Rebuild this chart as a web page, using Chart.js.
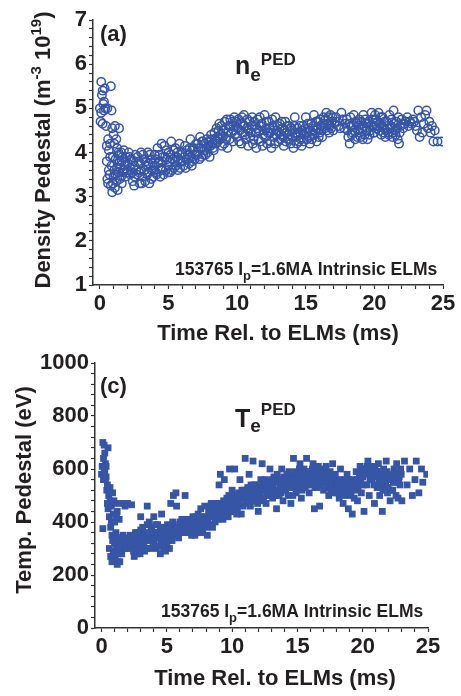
<!DOCTYPE html>
<html>
<head>
<meta charset="utf-8">
<script src="https://cdn.jsdelivr.net/npm/chart.js@4"></script>
<style>
  body { margin: 0; background: #fff; }
  canvas { position: absolute; left: 0; }
</style>
</head>
<body>
<canvas id="top" width="461" height="350" style="top:0"></canvas>
<canvas id="bot" width="461" height="356" style="top:340px"></canvas>
<script>
// panel (a): density pedestal, 1e19 m^-3
const densTime = [0.0, 0.05, 0.1, 0.1, 0.15, 0.2, 0.2, 0.25, 0.3, 0.3, 0.35, 0.4, 0.45, 0.5, 0.5, 0.55, 0.6, 0.6, 0.65, 0.7, 0.75, 0.8, 0.8, 0.85, 0.85, 0.9, 0.9, 0.95, 1.0, 1.0, 1.05, 1.1, 1.1, 1.15, 1.2, 1.2, 1.25, 1.3, 1.3, 1.35, 1.4, 1.4, 1.45, 1.5, 1.55, 1.6, 1.6, 1.7, 1.75, 1.8, 1.85, 1.9, 2.0, 2.05, 2.1, 2.2, 2.3, 2.4, 2.5, 2.5, 2.6, 2.7, 2.8, 2.9, 3.0, 3.0, 3.1, 3.2, 3.3, 3.4, 3.5, 3.5, 3.6, 3.7, 3.8, 3.9, 4.0, 4.0, 4.1, 4.2, 4.3, 4.4, 4.5, 4.5, 4.6, 4.7, 4.8, 4.9, 5.0, 5.0, 5.1, 5.2, 5.3, 5.4, 5.5, 5.6, 5.7, 5.8, 5.9, 6.0, 6.1, 6.2, 6.3, 6.4, 6.5, 6.6, 6.7, 6.8, 6.9, 7.0, 7.1, 7.2, 7.3, 7.4, 7.5, 7.6, 7.7, 7.8, 7.9, 8.0, 8.1, 8.2, 8.3, 8.4, 8.5, 8.6, 8.7, 8.8, 8.9, 9.0, 9.1, 9.2, 9.3, 9.4, 9.5, 9.6, 9.7, 9.8, 9.9, 10.0, 10.1, 10.2, 10.3, 10.4, 10.5, 10.6, 10.7, 10.8, 10.9, 11.0, 11.1, 11.2, 11.3, 11.4, 11.5, 11.6, 11.7, 11.8, 11.9, 12.0, 12.1, 12.2, 12.3, 12.4, 12.5, 12.6, 12.7, 12.8, 12.9, 13.0, 13.1, 13.2, 13.3, 13.4, 13.5, 13.6, 13.7, 13.8, 13.9, 14.0, 14.1, 14.2, 14.3, 14.4, 14.5, 14.6, 14.7, 14.8, 14.9, 15.0, 15.1, 15.2, 15.3, 15.4, 15.5, 15.6, 15.7, 15.8, 15.9, 16.0, 16.1, 16.2, 16.3, 16.4, 16.5, 16.6, 16.7, 16.8, 16.9, 17.0, 17.2, 17.4, 17.6, 17.8, 18.0, 18.1, 18.2, 18.3, 18.4, 18.5, 18.6, 18.7, 18.8, 18.9, 19.0, 19.1, 19.2, 19.3, 19.4, 19.5, 19.6, 19.7, 19.8, 19.9, 20.0, 20.1, 20.2, 20.3, 20.4, 20.5, 20.6, 20.7, 20.8, 20.9, 21.0, 21.1, 21.2, 21.3, 21.4, 21.5, 21.6, 21.7, 21.8, 21.9, 22.0, 22.2, 22.4, 22.6, 22.8, 23.0, 23.1, 23.2, 23.3, 23.4, 23.5, 23.6, 23.7, 23.8, 23.9, 24.0, 24.1, 24.2, 24.3, 24.4, 24.6, 24.9,
  0.55, 0.65, 0.75, 0.95, 1.05, 1.15, 1.25, 1.35, 1.45, 1.55, 1.65, 1.75, 1.85, 1.95, 2.15, 2.25, 2.35, 2.45, 2.55, 2.65, 2.75, 2.85, 2.95, 3.05, 3.15, 3.25, 3.35, 3.45, 3.55, 3.65, 3.75, 3.85, 3.95, 4.05, 4.15, 4.25, 4.35, 4.45, 4.55, 4.65, 4.75, 4.85, 4.95, 5.05, 5.15, 5.25, 5.35, 5.45, 5.55, 5.65, 5.75, 5.85, 5.95, 6.05, 6.15, 6.25, 6.35, 6.45, 6.55, 6.65, 6.75, 6.85, 6.95, 7.05, 7.15, 7.25, 7.35, 7.45, 7.55, 7.65, 7.75, 7.85, 7.95, 8.05, 8.15, 8.25, 8.35, 8.45, 8.55, 8.65, 8.75, 8.85, 8.95, 9.05, 9.15, 9.25, 9.35, 9.45, 9.55, 9.65, 9.75, 9.85, 9.95, 10.05, 10.15, 10.25, 10.35, 10.45, 10.55, 10.65, 10.75, 10.85, 10.95, 11.05, 11.15, 11.25, 11.35, 11.45, 11.55, 11.65, 11.75, 11.85, 11.95, 12.05, 12.15, 12.25, 12.35, 12.45, 12.55, 12.65, 12.75, 12.85, 12.95, 13.05, 13.15, 13.25, 13.35, 13.45, 13.55, 13.65, 13.75, 13.85, 13.95, 14.05, 14.15, 14.25, 14.35, 14.45, 14.55, 14.65, 14.75, 14.85, 14.95, 15.05, 15.15, 15.25, 15.35, 15.45, 15.55, 15.65, 15.75, 15.85, 15.95, 16.05, 16.15, 16.25, 16.35, 16.45, 16.55, 16.65, 16.75, 16.85, 16.95, 17.1, 17.3, 17.5, 17.7, 17.9, 18.05, 18.15, 18.25, 18.35, 18.45, 18.55, 18.65, 18.75, 18.85, 18.95, 19.05, 19.15, 19.25, 19.35, 19.45, 19.55, 19.65, 19.75, 19.85, 19.95, 20.05, 20.15, 20.25, 20.35, 20.45, 20.55, 20.65, 20.75, 20.85, 20.95, 21.05, 21.15, 21.25, 21.35, 21.45, 21.55, 21.65, 21.75, 21.85, 21.95, 22.1, 22.3, 22.5, 22.7, 22.9];
const densValue = [5.0, 4.7, 5.6, 4.9, 5.3, 5.4, 4.65, 5.1, 4.95, 5.15, 5.45, 5.0, 4.6, 4.15, 3.8, 5.0, 4.3, 3.3, 4.05, 3.5, 4.2, 5.5, 3.25, 4.95, 3.7, 4.55, 3.1, 3.9, 4.4, 3.45, 3.6, 4.6, 3.2, 3.85, 4.3, 3.35, 4.1, 3.75, 3.15, 3.55, 4.55, 3.95, 3.4, 3.65, 4.0, 3.3, 3.8, 3.55, 4.05, 3.7, 3.45, 3.9, 3.6, 3.75, 4.0, 3.5, 3.85, 3.35, 3.25, 3.7, 3.95, 3.5, 3.8, 3.3, 3.6, 4.0, 3.45, 3.85, 3.35, 3.7, 4.0, 3.55, 3.3, 3.85, 3.6, 3.45, 3.95, 3.7, 3.55, 4.1, 3.8, 3.45, 4.2, 3.65, 3.9, 4.15, 3.6, 3.85, 3.7, 4.0, 3.55, 4.25, 3.85, 3.65, 4.1, 3.9, 3.6, 4.2, 3.8, 4.0, 3.7, 4.15, 3.85, 3.95, 3.75, 4.3, 3.7, 4.05, 3.85, 4.2, 3.95, 4.1, 4.35, 3.9, 4.25, 4.05, 3.95, 4.3, 4.15, 3.9, 4.4, 4.2, 4.05, 4.3, 4.55, 4.25, 4.65, 4.4, 4.15, 4.5, 4.7, 4.3, 4.1, 4.6, 4.75, 4.45, 4.25, 4.8, 4.6, 4.35, 4.75, 4.5, 4.2, 4.65, 4.85, 4.4, 4.55, 4.15, 4.7, 4.45, 4.8, 4.3, 4.6, 4.1, 4.75, 4.5, 4.25, 4.65, 4.4, 4.85, 4.55, 4.2, 4.7, 4.45, 4.1, 4.6, 4.35, 4.8, 4.5, 4.25, 4.65, 4.4, 4.55, 4.15, 4.7, 4.45, 4.3, 4.6, 4.2, 4.5, 4.1, 4.8, 4.35, 4.55, 4.25, 4.45, 4.15, 4.6, 4.4, 4.8, 4.3, 4.55, 4.2, 4.65, 4.4, 4.85, 4.5, 4.25, 4.7, 4.45, 4.6, 4.35, 4.8, 4.55, 4.9, 4.65, 4.45, 4.85, 4.7, 4.5, 4.8, 4.6, 4.9, 4.55, 4.75, 4.35, 4.2, 4.6, 4.45, 4.85, 4.3, 4.65, 4.5, 4.75, 4.35, 4.55, 4.85, 4.4, 4.65, 4.3, 4.7, 4.5, 4.9, 4.6, 4.45, 4.75, 4.55, 4.9, 4.65, 4.4, 4.8, 4.55, 4.35, 4.7, 4.45, 4.85, 4.6, 4.35, 4.95, 4.5, 4.7, 4.3, 4.2, 4.6, 4.75, 4.65, 4.8, 4.7, 4.75, 4.6, 4.5, 4.95, 4.35, 4.8, 4.45, 4.65, 4.85, 4.95, 4.55, 4.7, 4.45, 4.6, 4.25, 4.5, 4.25, 4.25,
  3.4, 3.6, 3.9, 3.3, 4.2, 3.5, 3.65, 4.0, 3.8, 3.45, 3.9, 3.6, 3.8, 3.55, 3.9, 3.65, 3.55, 3.8, 3.45, 3.6, 3.9, 3.55, 3.75, 3.3, 3.95, 3.6, 3.8, 3.5, 3.75, 3.95, 3.4, 3.75, 3.6, 3.85, 3.5, 3.75, 3.95, 3.6, 3.8, 3.5, 3.9, 4.05, 3.55, 3.8, 3.95, 3.6, 4.05, 3.8, 3.7, 4.0, 3.85, 3.65, 3.95, 3.8, 3.9, 3.65, 4.05, 3.85, 4.1, 3.9, 3.8, 4.1, 3.95, 4.0, 4.2, 3.85, 4.1, 4.25, 3.95, 4.2, 4.1, 4.0, 4.25, 4.15, 4.3, 4.1, 4.45, 4.2, 4.35, 4.5, 4.3, 4.6, 4.35, 4.2, 4.55, 4.75, 4.45, 4.3, 4.6, 4.7, 4.5, 4.4, 4.7, 4.55, 4.25, 4.65, 4.8, 4.45, 4.6, 4.3, 4.75, 4.5, 4.35, 4.6, 4.2, 4.7, 4.45, 4.55, 4.3, 4.8, 4.6, 4.15, 4.5, 4.35, 4.7, 4.45, 4.55, 4.25, 4.75, 4.5, 4.2, 4.4, 4.6, 4.45, 4.3, 4.7, 4.35, 4.5, 4.25, 4.6, 4.4, 4.3, 4.55, 4.35, 4.6, 4.45, 4.2, 4.4, 4.6, 4.3, 4.5, 4.25, 4.55, 4.45, 4.65, 4.35, 4.5, 4.3, 4.6, 4.4, 4.7, 4.55, 4.35, 4.75, 4.5, 4.65, 4.6, 4.75, 4.5, 4.8, 4.6, 4.55, 4.8, 4.65, 4.7, 4.55, 4.75, 4.65, 4.5, 4.65, 4.8, 4.4, 4.6, 4.5, 4.7, 4.35, 4.6, 4.45, 4.7, 4.3, 4.6, 4.75, 4.5, 4.65, 4.4, 4.6, 4.75, 4.45, 4.85, 4.6, 4.7, 4.5, 4.8, 4.6, 4.45, 4.7, 4.5, 4.6, 4.4, 4.55, 4.75, 4.45, 4.65, 4.4, 4.55, 4.8, 4.45, 4.65, 4.55, 4.7, 4.6, 4.65, 4.7];

// panel (c): temperature pedestal, eV
const tempTime = [0.0, 0.05, 0.1, 0.1, 0.15, 0.2, 0.2, 0.25, 0.3, 0.3, 0.35, 0.4, 0.45, 0.5, 0.5, 0.55, 0.6, 0.6, 0.65, 0.7, 0.7, 0.75, 0.8, 0.8, 0.85, 0.9, 0.9, 0.95, 1.0, 1.0, 1.05, 1.1, 1.1, 1.15, 1.2, 1.2, 1.25, 1.3, 1.35, 1.4, 1.4, 1.5, 1.6, 1.6, 1.7, 1.8, 1.9, 2.0, 2.0, 2.1, 2.2, 2.3, 2.4, 2.5, 2.5, 2.6, 2.7, 2.8, 2.9, 3.0, 3.0, 3.1, 3.2, 3.3, 3.4, 3.5, 3.5, 3.6, 3.7, 3.8, 3.9, 4.0, 4.0, 4.1, 4.2, 4.3, 4.4, 4.5, 4.5, 4.6, 4.7, 4.8, 4.9, 5.0, 5.0, 5.1, 5.2, 5.3, 5.3, 5.4, 5.5, 5.5, 5.6, 5.7, 5.8, 5.9, 6.0, 6.1, 6.2, 6.3, 6.4, 6.5, 6.6, 6.7, 6.8, 6.9, 7.0, 7.1, 7.2, 7.3, 7.4, 7.5, 7.6, 7.7, 7.8, 7.9, 8.0, 8.1, 8.2, 8.3, 8.4, 8.5, 8.6, 8.7, 8.8, 8.9, 9.0, 9.0, 9.1, 9.2, 9.3, 9.4, 9.5, 9.6, 9.7, 9.8, 9.9, 10.0, 10.1, 10.2, 10.3, 10.4, 10.5, 10.6, 10.7, 10.8, 10.9, 11.0, 11.1, 11.2, 11.3, 11.4, 11.5, 11.6, 11.7, 11.8, 11.9, 12.0, 12.1, 12.2, 12.3, 12.4, 12.5, 12.6, 12.7, 12.8, 12.9, 13.0, 13.1, 13.2, 13.3, 13.4, 13.5, 13.6, 13.7, 13.8, 13.9, 14.0, 14.1, 14.2, 14.3, 14.4, 14.5, 14.6, 14.7, 14.8, 14.9, 15.0, 15.1, 15.2, 15.3, 15.4, 15.5, 15.6, 15.7, 15.8, 15.9, 16.0, 16.1, 16.2, 16.3, 16.4, 16.5, 16.6, 16.7, 16.8, 16.9, 17.0, 17.1, 17.2, 17.3, 17.4, 17.5, 17.6, 17.7, 17.8, 17.9, 18.0, 18.1, 18.2, 18.3, 18.4, 18.5, 18.6, 18.7, 18.8, 18.9, 19.0, 19.1, 19.2, 19.3, 19.4, 19.5, 19.6, 19.7, 19.8, 19.9, 20.0, 20.1, 20.2, 20.3, 20.4, 20.5, 20.6, 20.7, 20.8, 20.9, 21.0, 21.1, 21.2, 21.3, 21.4, 21.5, 21.6, 21.7, 21.8, 21.9, 22.0, 22.1, 22.2, 22.3, 22.4, 22.5, 22.6, 22.7, 22.8, 22.9, 23.0, 23.2, 23.4, 23.6, 23.8, 24.0, 24.1, 24.3, 24.5, 24.6, 24.9,
  0.15, 0.25, 0.35, 0.45, 0.55, 0.65, 0.75, 0.85, 0.95, 1.05, 1.15, 1.25, 1.35, 1.45, 1.55, 1.65, 1.75, 1.85, 2.15, 2.25, 2.45, 2.55, 2.65, 2.75, 2.85, 2.95, 3.05, 3.15, 3.25, 3.35, 3.45, 3.55, 3.65, 3.75, 3.85, 3.95, 4.05, 4.15, 4.25, 4.35, 4.45, 4.55, 4.65, 4.75, 4.85, 4.95, 5.05, 5.15, 5.25, 5.35, 5.45, 5.65, 5.75, 5.85, 5.95, 6.15, 6.25, 6.35, 6.55, 6.65, 6.75, 6.85, 7.05, 7.15, 7.25, 7.35, 7.45, 7.55, 7.65, 7.75, 7.85, 7.95, 8.05, 8.15, 8.25, 8.35, 8.45, 8.55, 8.65, 8.75, 8.85, 8.95, 9.05, 9.15, 9.25, 9.35, 9.45, 9.55, 9.65, 9.75, 9.85, 9.95, 10.05, 10.15, 10.25, 10.35, 10.45, 10.55, 10.65, 10.75, 10.85, 10.95, 11.05, 11.15, 11.25, 11.35, 11.45, 11.55, 11.65, 11.75, 11.85, 11.95, 12.05, 12.15, 12.25, 12.35, 12.45, 12.55, 12.65, 12.75, 12.85, 12.95, 13.05, 13.15, 13.25, 13.35, 13.45, 13.55, 13.65, 13.75, 13.85, 13.95, 14.05, 14.15, 14.25, 14.35, 14.45, 14.55, 14.65, 14.75, 14.85, 14.95, 15.05, 15.15, 15.25, 15.35, 15.45, 15.55, 15.65, 15.75, 15.85, 15.95, 16.05, 16.15, 16.25, 16.35, 16.45, 16.55, 16.65, 16.75, 16.85, 16.95, 17.05, 17.15, 17.25, 17.35, 17.45, 17.55, 17.65, 17.75, 17.85, 17.95, 18.05, 18.15, 18.25, 18.35, 18.45, 18.55, 18.65, 18.75, 18.85, 18.95, 19.05, 19.15, 19.25, 19.35, 19.45, 19.55, 19.65, 19.75, 19.85, 19.95, 20.05, 20.15, 20.25, 20.35, 20.45, 20.55, 20.65, 20.75, 20.85, 20.95, 21.05, 21.15, 21.25, 21.35, 21.45, 21.55, 21.65, 21.75, 21.85, 21.95, 22.05, 22.15, 22.25, 22.35, 22.45, 22.55, 22.65, 22.75, 22.85, 22.95];
const tempValue = [580, 610, 700, 375, 640, 690, 600, 660, 560, 620, 570, 520, 470, 680, 450, 500, 420, 300, 530, 380, 270, 460, 350, 250, 510, 430, 290, 480, 400, 320, 260, 470, 360, 300, 440, 240, 340, 280, 410, 250, 320, 300, 470, 330, 310, 460, 340, 470, 320, 300, 350, 465, 330, 270, 310, 360, 280, 340, 300, 370, 420, 310, 350, 290, 330, 390, 460, 340, 300, 380, 350, 420, 320, 360, 300, 390, 340, 280, 370, 430, 320, 350, 290, 380, 310, 340, 300, 470, 360, 330, 500, 390, 350, 510, 380, 340, 400, 370, 360, 390, 500, 380, 410, 360, 390, 350, 420, 380, 400, 360, 430, 390, 450, 370, 410, 460, 400, 350, 440, 420, 470, 380, 450, 400, 460, 420, 540, 440, 580, 470, 410, 560, 450, 490, 420, 600, 470, 520, 440, 600, 480, 450, 510, 560, 430, 490, 520, 640, 470, 530, 580, 460, 500, 630, 540, 480, 520, 440, 510, 560, 620, 490, 530, 470, 550, 510, 600, 540, 490, 570, 520, 450, 560, 500, 540, 600, 480, 550, 520, 580, 500, 560, 470, 530, 640, 550, 510, 580, 540, 620, 490, 570, 600, 530, 640, 560, 510, 590, 540, 620, 450, 570, 530, 610, 460, 560, 600, 520, 580, 610, 540, 500, 590, 560, 620, 530, 580, 510, 550, 490, 600, 540, 470, 560, 520, 580, 450, 540, 500, 430, 560, 520, 590, 480, 550, 610, 510, 570, 440, 600, 540, 630, 500, 580, 560, 610, 470, 590, 530, 620, 500, 570, 440, 600, 540, 630, 510, 580, 480, 560, 520, 600, 550, 620, 490, 570, 600, 480, 630, 540, 600, 500, 560, 630, 510, 600, 550, 580,
  560, 590, 610, 540, 460, 480, 400, 330, 280, 350, 420, 250, 300, 340, 280, 350, 320, 300, 330, 310, 290, 340, 320, 360, 330, 280, 340, 380, 320, 360, 300, 350, 400, 330, 370, 310, 360, 390, 340, 310, 360, 330, 380, 300, 360, 340, 390, 330, 380, 350, 400, 370, 460, 360, 380, 410, 380, 400, 360, 380, 400, 370, 390, 350, 420, 380, 370, 400, 420, 360, 390, 420, 380, 410, 390, 460, 430, 420, 470, 440, 410, 470, 420, 460, 440, 480, 430, 470, 450, 500, 440, 480, 460, 500, 470, 430, 490, 470, 500, 520, 460, 500, 480, 520, 490, 510, 540, 480, 520, 500, 540, 470, 530, 500, 480, 540, 520, 560, 500, 530, 550, 510, 560, 530, 500, 550, 580, 520, 560, 510, 540, 570, 520, 550, 530, 590, 540, 570, 500, 560, 590, 530, 560, 600, 550, 520, 580, 560, 590, 540, 580, 550, 570, 600, 560, 530, 590, 550, 580, 540, 570, 550, 590, 560, 530, 580, 560, 520, 570, 550, 510, 560, 540, 520, 560, 510, 550, 530, 500, 540, 520, 560, 510, 550, 530, 490, 550, 560, 530, 580, 560, 590, 540, 600, 580, 610, 590, 560, 600, 580, 540, 600, 570, 590, 560, 540, 590, 520, 570, 550, 590, 530, 560, 520, 580, 550, 570, 500, 590, 550, 540, 580];

const blue = '#3755a5';
const ink = '#231f20';
const fam = '"Liberation Sans", Arial, sans-serif';

function toXY(xs, ys) {
  return xs.map((x, i) => ({ x: x, y: ys[i] }));
}

// draw a run of text pieces; each piece: [text, size, baselineShift]
function drawRuns(ctx, runs, x, y, align) {
  let w = 0;
  runs.forEach(r => { ctx.font = 'bold ' + r[1] + 'px ' + fam; w += ctx.measureText(r[0]).width; });
  let cx = align === 'center' ? x - w / 2 : x;
  runs.forEach(r => {
    ctx.font = 'bold ' + r[1] + 'px ' + fam;
    ctx.fillText(r[0], cx, y + (r[2] || 0));
    cx += ctx.measureText(r[0]).width;
  });
}

const labelsPlugin = {
  id: 'panelLabels',
  afterDraw(chart, args, opts) {
    const ctx = chart.ctx;
    ctx.save();
    ctx.fillStyle = ink;
    ctx.textBaseline = 'alphabetic';
    ctx.textAlign = 'left';
    opts.items.forEach(it => {
      if (it.rotate) {
        ctx.save();
        ctx.translate(it.x, it.y);
        ctx.rotate(-Math.PI / 2);
        drawRuns(ctx, it.runs, 0, 0, 'center');
        ctx.restore();
      } else {
        drawRuns(ctx, it.runs, it.x, it.y, it.align);
      }
    });
    ctx.restore();
  }
};

function makeChart(id, cfg) {
  return new Chart(document.getElementById(id), {
    type: 'scatter',
    data: { datasets: [cfg.dataset] },
    plugins: [labelsPlugin],
    options: {
      responsive: false,
      animation: false,
      events: [],
      layout: { padding: cfg.padding },
      plugins: {
        legend: { display: false },
        tooltip: { enabled: false },
        panelLabels: { items: cfg.items }
      },
      scales: {
        x: {
          type: 'linear',
          min: -0.5,
          max: 25,
          afterFit: s => { s.height = cfg.xHeight; },
          border: { color: '#333', width: 1.5 },
          grid: { drawOnChartArea: false, tickLength: 4, color: '#333', tickWidth: 1.2 },
          ticks: {
            stepSize: 1,
            includeBounds: false,
            autoSkip: false,
            maxRotation: 0,
            padding: 2,
            color: ink,
            font: { family: fam, size: 22, weight: 'bold' },
            callback: v => (v % 5 === 0 ? String(v) : '')
          }
        },
        y: {
          min: cfg.yMin,
          max: cfg.yMax,
          afterFit: s => { s.width = cfg.yWidth; },
          border: { color: '#333', width: 1.5 },
          grid: { drawOnChartArea: false, tickLength: 4, color: '#333', tickWidth: 1.2 },
          ticks: {
            stepSize: cfg.yStep,
            autoSkip: false,
            padding: 2,
            color: ink,
            font: { family: fam, size: 22, weight: 'bold' },
            callback: v => {
              const r = Math.round(v / cfg.yMajor) * cfg.yMajor;
              return Math.abs(v - r) < 1e-6 ? String(Math.round(r)) : '';
            }
          }
        }
      }
    }
  });
}

makeChart('top', {
  dataset: {
    data: toXY(densTime, densValue),
    pointStyle: 'circle',
    pointRadius: 4.2,
    pointBorderWidth: 1.5,
    pointBorderColor: blue,
    pointBackgroundColor: 'rgba(0,0,0,0)'
  },
  padding: { left: 0, top: 20, right: 18, bottom: 0 },
  xHeight: 65, yWidth: 93,
  yMin: 1, yMax: 7, yStep: 0.2, yMajor: 1,
  items: [
    { x: 100, y: 41, runs: [['(a)', 22]] },
    { x: 235, y: 74, runs: [['n', 25], ['e', 19, 7], ['PED', 17, -9]] },
    { x: 175, y: 275, runs: [['153765 I', 17.5], ['p', 13, 5], ['=1.6MA Intrinsic ELMs', 17.5]] },
    { x: 278, y: 340, align: 'center', runs: [['Time Rel. to ELMs (ms)', 22]] },
    { rotate: true, x: 50, y: 150, runs: [['Density Pedestal (m', 22], ['-3', 15, -9], [' 10', 22], ['19', 15, -9], [')', 22]] }
  ]
});

makeChart('bot', {
  dataset: {
    data: toXY(tempTime, tempValue),
    pointStyle: 'rect',
    pointRadius: 4.8,
    pointBorderWidth: 0,
    pointBackgroundColor: blue
  },
  padding: { left: 0, top: 23, right: 33, bottom: 0 },
  xHeight: 68, yWidth: 95,
  yMin: 0, yMax: 1000, yStep: 40, yMajor: 200,
  items: [
    { x: 100, y: 53, runs: [['(c)', 22]] },
    { x: 235, y: 87, runs: [['T', 25], ['e', 19, 5], ['PED', 17, -12]] },
    { x: 161, y: 277, runs: [['153765 I', 17.5], ['p', 13, 5], ['=1.6MA Intrinsic ELMs', 17.5]] },
    { x: 275, y: 345, align: 'center', runs: [['Time Rel. to ELMs (ms)', 22]] },
    { rotate: true, x: 31, y: 150, runs: [['Temp. Pedestal (eV)', 22]] }
  ]
});
</script>
</body>
</html>
